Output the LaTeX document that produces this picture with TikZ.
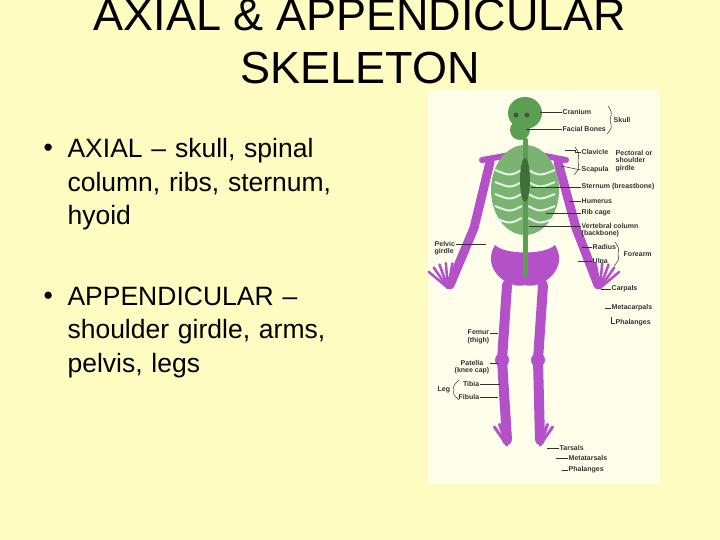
\documentclass[tikz,border=0pt]{standalone}
\usepackage{fontspec}
\setmainfont{Liberation Sans}
\begin{document}
\begin{tikzpicture}[x=1pt,y=-1pt,
  lab/.style={font=\fontsize{7}{7.5}\selectfont\bfseries,text=black!80,inner sep=0.5pt,align=left},
  ldr/.style={draw=black!80,line width=0.5pt},
  bone/.style={line width=#1,line cap=round},
  body/.style={font=\fontsize{26.5}{33.5}\selectfont,anchor=west,align=left}]
\fill[yellow!20!white!95!yellow] (0,0) rectangle (720,540);
\useasboundingbox (0,0) rectangle (720,540);
\definecolor{purp}{RGB}{180,80,200}
\definecolor{grn}{RGB}{90,160,80}
\node[font=\fontsize{45}{48}\selectfont] (t1) at (360,15) {AXIAL \& APPENDICULAR};
\node[font=\fontsize{45}{48}\selectfont] (t2) at (360,68) {SKELETON};
\node[body] (b1) at (40,150) {•};
\node[body,anchor=north west,text width=360pt] (b1t) at (64,135) {AXIAL – skull, spinal\\column, ribs, sternum,\\hyoid};
\node[body] (b2) at (40,298) {•};
\node[body,anchor=north west,text width=360pt] (b2t) at (64,283) {APPENDICULAR –\\shoulder girdle, arms,\\pelvis, legs};
% panel
\fill[white!92!yellow] (428,90) rectangle (660,484);
% skeleton
\begin{scope}
\draw[bone=9pt,draw=purp] (490,162) -- (474,228) -- (450,285);
\draw[bone=9pt,draw=purp] (558,162) -- (576,228) -- (598,285);
\draw[bone=6pt,draw=purp] (482,160) -- (510,155); \draw[bone=6pt,draw=purp] (566,160) -- (540,155);
\foreach \a in {-30,-15,0,15,30}{\draw[bone=2.5pt,draw=purp] (448,288) -- ++(250+\a:25);
 \draw[bone=2.5pt,draw=purp] (600,288) -- ++(290+\a:25);}
\draw[bone=10pt,draw=purp] (507,285) -- (502,360) -- (507,440);
\draw[bone=10pt,draw=purp] (543,285) -- (538,360) -- (540,440);
\fill[purp] (502,360) circle (7); \fill[purp] (538,360) circle (7);
\foreach \a in {-15,0,15}{\draw[bone=3pt,draw=purp] (507,445) -- ++(250+\a:22);
 \draw[bone=3pt,draw=purp] (540,445) -- ++(290+\a:22);}
\fill[purp] (495,245) .. controls (480,270) and (510,290) .. (525,285) .. controls (540,290) and (570,270) .. (555,245) .. controls (545,255) and (505,255) .. (495,245) -- cycle;
\fill[grn!80] (525,190) ellipse (34 and 45);
\foreach \y in {170,182,194,206,218}{\draw[white!85!grn,line width=2pt] (495,\y) .. controls (510,\y+6) .. (522,\y);
 \draw[white!85!grn,line width=2pt] (555,\y) .. controls (540,\y+6) .. (528,\y);}
\draw[bone=5pt,draw=grn] (525,140) -- (525,275);
\fill[grn!70!black] (525,180) ellipse (5 and 22);
\fill[grn] (525,113) ellipse (17 and 16);
\fill[grn] (520,130) ellipse (10 and 10);
\fill[black!70] (516,115) circle (2.5); \fill[black!70] (527,115) circle (2.5);
\end{scope}
% labels
\node[lab,anchor=west] (cra) at (562,112) {Cranium};
\node[lab,anchor=west] (fac) at (562,129) {Facial Bones};
\node[lab,anchor=west] (sku) at (613,120) {Skull};
\node[lab,anchor=west] (cla) at (581,152) {Clavicle};
\node[lab,anchor=west] (sca) at (581,170) {Scapula};
\node[lab,anchor=west] (pec) at (615,161) {Pectoral or\\shoulder\\girdle};
\node[lab,anchor=west] (ste) at (581,187) {Sternum (breastbone)};
\node[lab,anchor=west] (hum) at (581,201) {Humerus};
\node[lab,anchor=west] (rib) at (581,213) {Rib cage};
\node[lab,anchor=west] (ver) at (581,230) {Vertebral column\\(backbone)};
\node[lab,anchor=west] (rad) at (592,247) {Radius};
\node[lab,anchor=west] (uln) at (592,261) {Ulna};
\node[lab,anchor=west] (for) at (623,254) {Forearm};
\node[lab,anchor=west] (pel) at (434,248) {Pelvic\\girdle};
\node[lab,anchor=west] (car) at (611,289) {Carpals};
\node[lab,anchor=west] (mec) at (611,308) {Metacarpals};
\node[lab,anchor=west] (pha) at (615,323) {Phalanges};
\node[lab,anchor=east,align=center] (fem) at (490,337) {Femur\\(thigh)};
\node[lab,anchor=east,align=center] (pat) at (490,367) {Patella\\(knee cap)};
\node[lab,anchor=east] (tib) at (480,384) {Tibia};
\node[lab,anchor=east] (fib) at (480,397) {Fibula};
\node[lab,anchor=west] (leg) at (437,390) {Leg};
\node[lab,anchor=west] (tar) at (559,448) {Tarsals};
\node[lab,anchor=west] (met) at (568,458) {Metatarsals};
\node[lab,anchor=west] (phf) at (568,470) {Phalanges};
% leaders
\draw[ldr] (cra.west) -- ++(-22,0); \draw[ldr] (fac.west) -- ++(-36,0);
\draw[ldr] (cla.west) -- ++(-6,0) -- ++(0,-2) -- ++(-10,0);
\draw[ldr] (sca.west) -- ++(-20,-4); \draw[ldr] (ste.west) -- ++(-50,0);
\draw[ldr] (hum.west) -- ++(-12,0); \draw[ldr] (rib.west) -- ++(-35,0);
\draw[ldr] (ver.west) ++(0,-4) -- ++(-52,0);
\draw[ldr] (rad.west) -- ++(-10,0); \draw[ldr] (uln.west) -- ++(-14,0);
\draw[ldr] (pel.east) ++(0,-4) -- ++(30,0);
\draw[ldr] (car.west) -- ++(-10,0); \draw[ldr] (mec.west) -- ++(-6,0);
\draw[ldr] (pha.west) -- ++(-4,0) -- ++(0,-6);
\draw[ldr] (fem.east) ++(0,-4) -- ++(8,0); \draw[ldr] (pat.east) ++(0,-4) -- ++(8,0);
\draw[ldr] (tib.east) -- ++(20,0); \draw[ldr] (fib.east) -- ++(18,0);
\draw[ldr] (tar.west) -- ++(-12,0); \draw[ldr] (met.west) -- ++(-12,0); \draw[ldr] (phf.west) -- ++(-6,0);
% braces
\draw[ldr] (608,106) .. controls (612,112) .. (610,120) .. controls (612,128) .. (607,134);
\draw[ldr] (575,147) .. controls (579,153) .. (578,161) .. controls (579,169) .. (574,175);
\draw[ldr] (615,242) .. controls (619,248) .. (618,254) .. controls (619,260) .. (614,266);
\draw[ldr] (459,380) .. controls (453,386) .. (454,390) .. controls (453,394) .. (459,400);
\end{tikzpicture}
\end{document}
